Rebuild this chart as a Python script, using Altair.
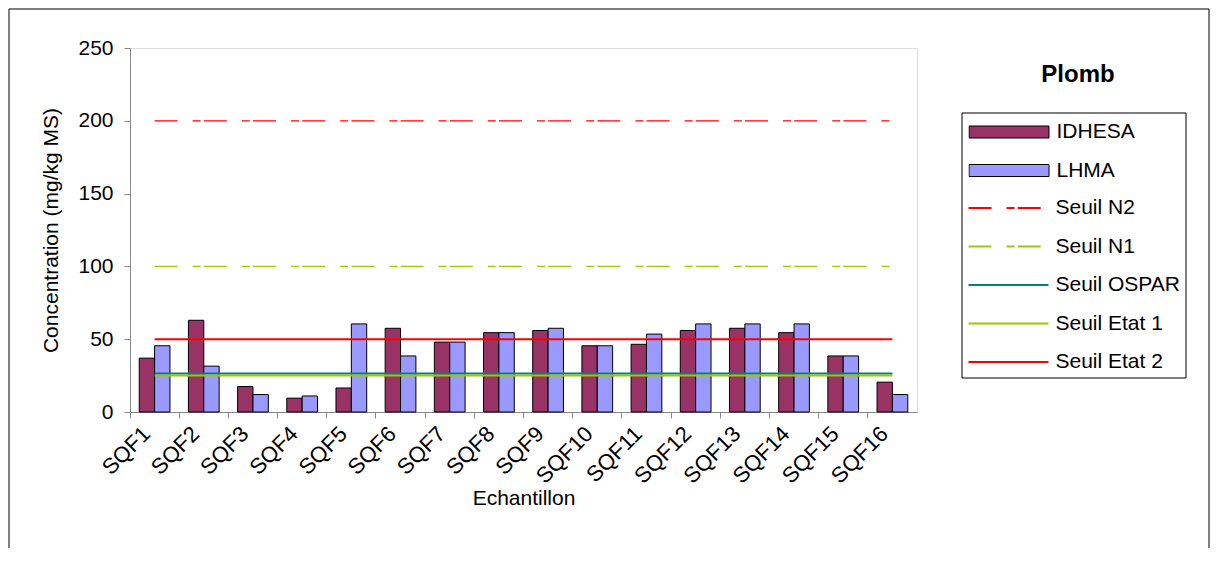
import altair as alt
import pandas as pd

SAMPLES = ["SQF1", "SQF2", "SQF3", "SQF4", "SQF5", "SQF6", "SQF7", "SQF8",
           "SQF9", "SQF10", "SQF11", "SQF12", "SQF13", "SQF14", "SQF15", "SQF16"]
IDHESA = [37, 63, 17.5, 9.5, 16.5, 57.5, 48, 54.5, 56, 45.5, 46.5, 56, 57.5, 54.5, 38.5, 20.5]
LHMA = [45.5, 31.5, 12, 11, 60.5, 38.5, 48, 54.5, 57.5, 45.5, 53.5, 60.5, 60.5, 60.5, 38.5, 12]
SERIES = ["IDHESA", "LHMA"]
SERIES_COLORS = ["#993366", "#9999FF"]

SEUILS = ["Seuil N2", "Seuil N1", "Seuil OSPAR", "Seuil Etat 1", "Seuil Etat 2"]
SEUIL_VALUES = [200, 100, 26.4, 25, 50]
SEUIL_COLORS = ["#FF0000", "#99CC00", "#008080", "#99CC00", "#FF0000"]
SEUIL_DASHES = [[23, 15, 8, 3.2], [23, 15, 8, 3.2], [1, 0], [1, 0], [1, 0]]
DASHED = ["Seuil N2", "Seuil N1"]

Y_TICKS = [0, 50, 100, 150, 200, 250]
FONT = "Liberation Sans"

bar_rows = []
for s, a, b in zip(SAMPLES, IDHESA, LHMA):
    bar_rows.append({"sample": s, "serie": "IDHESA", "value": a})
    bar_rows.append({"sample": s, "serie": "LHMA", "value": b})
bar_df = pd.DataFrame(bar_rows)

thin_rows, thick_rows = [], []
for name, v in zip(SEUILS, SEUIL_VALUES):
    for s in SAMPLES:
        (thin_rows if name in DASHED else thick_rows).append({"sample": s, "seuil": name, "value": v})
thin_df = pd.DataFrame(thin_rows)
thick_df = pd.DataFrame(thick_rows)

W, H = 787, 364

x_axis = alt.Axis(title="Echantillon", bandPosition=0, labelAngle=315, labelAlign="right",
                  labelBaseline="middle", labelPadding=12, labelOffset=-8, tickSize=6,
                  labelFontSize=22, titleFontSize=21, titleFontWeight="normal",
                  titlePadding=0, grid=False)
y_axis = alt.Axis(title="Concentration (mg/kg MS)", values=Y_TICKS, tickSize=6, labelPadding=11,
                  labelFontSize=21, titleFontSize=21, titleFontWeight="normal",
                  titlePadding=16, grid=False)

x_enc = alt.X("sample:N", sort=SAMPLES,
              scale=alt.Scale(domain=SAMPLES, paddingInner=0, paddingOuter=0), axis=x_axis)
y_enc = alt.Y("value:Q", scale=alt.Scale(domain=[0, 250], nice=False), axis=y_axis)

bar_legend = alt.Legend(orient="none", legendX=838.5, legendY=74, title=None,
                        symbolType="M-1,-0.15H1V0.15H-1Z", symbolSize=6400,
                        symbolStrokeColor="black", symbolStrokeWidth=1,
                        clipHeight=20, rowPadding=17.5, labelOffset=7, padding=0,
                        labelFontSize=21, labelFont=FONT, labelColor="black")
line_legend = alt.Legend(orient="none", legendX=837.5, legendY=150, title=None,
                         symbolType="stroke", symbolSize=6400, symbolStrokeWidth=2,
                         clipHeight=20, rowPadding=17.5, labelOffset=6, padding=0,
                         labelFontSize=21, labelFont=FONT, labelColor="black")

frame = alt.Chart(pd.DataFrame({"k": [0]})).mark_rect(
    fill="transparent", stroke="black", strokeWidth=1).encode(
    x=alt.value(-121), x2=alt.value(1079), y=alt.value(-39), y2=alt.value(700))

legend_box = alt.Chart(pd.DataFrame({"k": [0]})).mark_rect(
    fill="white", stroke="black", strokeWidth=1).encode(
    x=alt.value(832), x2=alt.value(1056), y=alt.value(65), y2=alt.value(330))

bars = alt.Chart(bar_df).mark_bar(stroke="black", strokeWidth=1).encode(
    x=x_enc,
    xOffset=alt.XOffset("serie:N", scale=alt.Scale(domain=SERIES, paddingInner=0, paddingOuter=0.6)),
    y=y_enc,
    fill=alt.Fill("serie:N", scale=alt.Scale(domain=SERIES, range=SERIES_COLORS), legend=bar_legend),
)

stroke_enc = alt.Stroke("seuil:N", scale=alt.Scale(domain=SEUILS, range=SEUIL_COLORS), legend=line_legend)
dash_enc = alt.StrokeDash("seuil:N", scale=alt.Scale(domain=SEUILS, range=SEUIL_DASHES), legend=line_legend)

thick = alt.Chart(thick_df).mark_line(strokeWidth=2).encode(
    x=alt.X("sample:N", sort=SAMPLES), y=alt.Y("value:Q"), stroke=stroke_enc, strokeDash=dash_enc)
thin = alt.Chart(thin_df).mark_line(strokeWidth=1.2).encode(
    x=alt.X("sample:N", sort=SAMPLES), y=alt.Y("value:Q"), stroke=stroke_enc, strokeDash=dash_enc)

chart = alt.layer(frame, legend_box, bars, thick, thin).properties(
    width=W, height=H,
    autosize=alt.AutoSizeParams(type="none"),
    padding={"left": 122, "top": 40, "right": 293, "bottom": 136},
    title=alt.TitleParams(text="Plomb", anchor="start", align="center", dx=948, dy=82,
                          fontSize=24, fontWeight="bold", font=FONT, color="black", frame="group"),
).configure_view(stroke=None).configure_axis(
    labelFont=FONT, titleFont=FONT, labelColor="black", titleColor="black",
    domainColor="black", tickColor="black"
).configure(background="white")

chart.save("out.html", embed_options={"renderer": "svg", "actions": False})
